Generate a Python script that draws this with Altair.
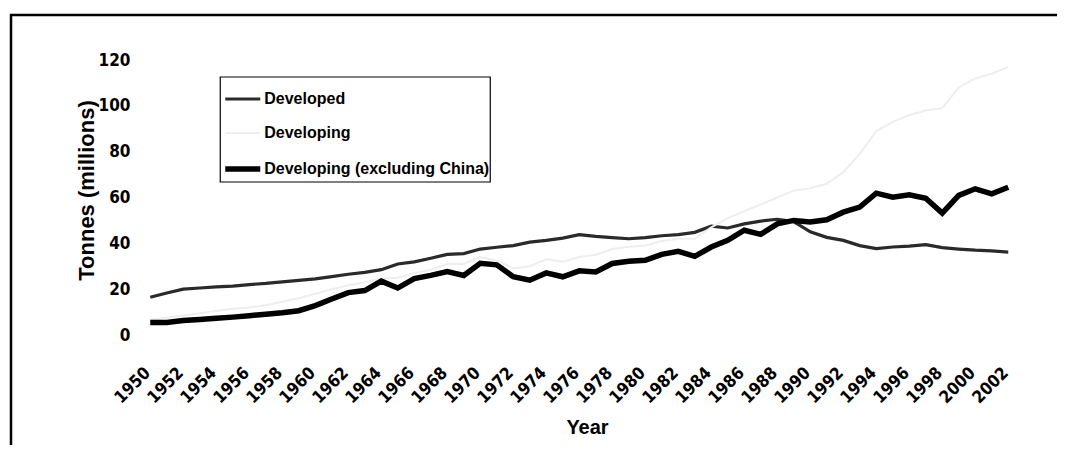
import altair as alt
import pandas as pd

years = list(range(1950, 2003))

developed = [16.5, 18.3, 20.0, 20.5, 21.0, 21.3, 22.0, 22.5, 23.2, 23.8,
             24.5, 25.5, 26.5, 27.3, 28.5, 31.0, 31.9, 33.5, 35.2, 35.5,
             37.5, 38.3, 39.0, 40.5, 41.3, 42.3, 43.8, 43.0, 42.5, 42.0,
             42.5, 43.3, 43.8, 44.8, 47.5, 46.7, 48.5, 49.7, 50.5, 49.5,
             45.0, 42.6, 41.3, 39.0, 37.7, 38.4, 38.8, 39.4, 38.1, 37.5,
             37.0, 36.7, 36.2]

developing = [6.5, 7.5, 8.5, 9.5, 10.5, 11.5, 12.0, 13.0, 14.5, 16.0,
              18.0, 20.0, 21.7, 23.0, 24.5, 25.0, 27.0, 28.5, 31.0, 31.0,
              34.0, 32.5, 29.0, 30.0, 33.0, 32.0, 34.0, 35.0, 37.5, 38.5,
              39.0, 41.0, 42.0, 42.0, 47.0, 51.0, 54.0, 57.0, 60.0, 63.0,
              64.0, 66.0, 71.0, 79.0, 89.0, 93.0, 96.0, 98.0, 99.0, 108.0,
              112.0, 114.0, 117.0]

excl_china = [5.5, 5.5, 6.3, 6.8, 7.3, 7.8, 8.4, 9.1, 9.7, 10.6,
              12.8, 15.7, 18.5, 19.4, 23.5, 20.5, 24.6, 26.0, 27.7, 26.0,
              31.3, 30.6, 25.4, 23.9, 27.1, 25.4, 28.0, 27.5, 31.2, 32.2,
              32.6, 35.2, 36.5, 34.3, 38.4, 41.3, 45.7, 43.9, 48.5, 50.0,
              49.3, 50.3, 53.6, 55.8, 61.9, 60.1, 61.2, 59.7, 53.2, 60.9,
              63.8, 61.6, 64.5]

series_names = ["Developed", "Developing", "Developing (excluding China)"]
series_colors = ["#2a2a2a", "#eeeeee", "#000000"]
series_widths = [3.2, 2, 5.5]

y_ticks = [0, 20, 40, 60, 80, 100, 120]
x_ticks = years[::2]

rows = []
for name, vals in zip(series_names, [developed, developing, excl_china]):
    for yr, v in zip(years, vals):
        rows.append({"Year": yr, "Tonnes": v, "series": name})
df = pd.DataFrame(rows)

W, H = 874.5, 275
FONT = "Liberation Sans"
NARROW = "Liberation Sans Narrow, DejaVu Sans Condensed, Liberation Sans"

x_enc = alt.X(
    "Year:Q",
    scale=alt.Scale(domain=[1949.5, 2002.5], nice=False, zero=False),
    axis=alt.Axis(
        values=x_ticks, format="d", labelAngle=-45, labelAlign="right",
        labelBaseline="middle", labelPadding=35, labelOffset=-3, ticks=False,
        domain=False, grid=False, labelFont=NARROW, labelFontSize=17,
        labelFontWeight="bold", labelColor="black", labelOverlap=False,
        labelFlush=False,
        title="Year", titleFont=FONT, titleFontSize=20, titleFontWeight="bold",
        titleColor="black", titleX=445, titleY=92, titleBaseline="middle",
        titleAlign="center",
    ),
)
y_enc = alt.Y(
    "Tonnes:Q",
    scale=alt.Scale(domain=[0, 120], nice=False),
    axis=alt.Axis(
        values=y_ticks, ticks=False, domain=False, grid=False, labelPadding=12,
        labelFont=NARROW, labelFontSize=17, labelFontWeight="bold",
        labelColor="black",
        title="Tonnes (millions)", titleFont=FONT, titleFontSize=22,
        titleFontWeight="bold", titleColor="black", titleX=-56, titleY=130,
        titleBaseline="middle", titleAlign="center",
    ),
)

leg = alt.Legend(
    orient="none", legendX=80.25, legendY=19.5, symbolType="stroke",
    symbolSize=1225, labelFont=FONT, labelFontSize=16, labelFontWeight="bold",
    labelColor="black", padding=0, rowPadding=7, labelOffset=1,
    labelLimit=400,
)

base = alt.Chart(df).mark_line().encode(
    x=x_enc,
    y=y_enc,
    color=alt.Color("series:N", title=None,
                    scale=alt.Scale(domain=series_names, range=series_colors),
                    legend=leg),
    strokeWidth=alt.StrokeWidth(
        "series:N", title=None,
        scale=alt.Scale(type="ordinal", domain=series_names,
                        range=series_widths),
        legend=leg),
)

l_dev = base.transform_filter(alt.datum.series == "Developed")
l_dvg = base.transform_filter(alt.datum.series == "Developing")
l_ex = base.transform_filter(alt.datum.series == "Developing (excluding China)")

one = pd.DataFrame({"k": [0]})
frame = alt.Chart(one).mark_rect(
    fillOpacity=0, stroke="black", strokeWidth=2.5, clip=False
).encode(
    x=alt.value(-131), x2=alt.value(W + 200),
    y=alt.value(-45), y2=alt.value(H + 200),
)
legbox = alt.Chart(one).mark_rect(
    fillOpacity=0, stroke="black", strokeWidth=1.2, clip=False
).encode(
    x=alt.value(78.25), x2=alt.value(348.25),
    y=alt.value(17), y2=alt.value(122),
)

chart = alt.layer(frame, legbox, l_dev, l_dvg, l_ex).properties(
    width=W, height=H,
    autosize=alt.AutoSizeParams(type="none"),
    padding={"left": 134, "top": 52, "right": 40, "bottom": 110},
    background="white",
).configure_view(strokeWidth=0)

chart.save("out.html", embed_options={"renderer": "svg", "actions": False})
